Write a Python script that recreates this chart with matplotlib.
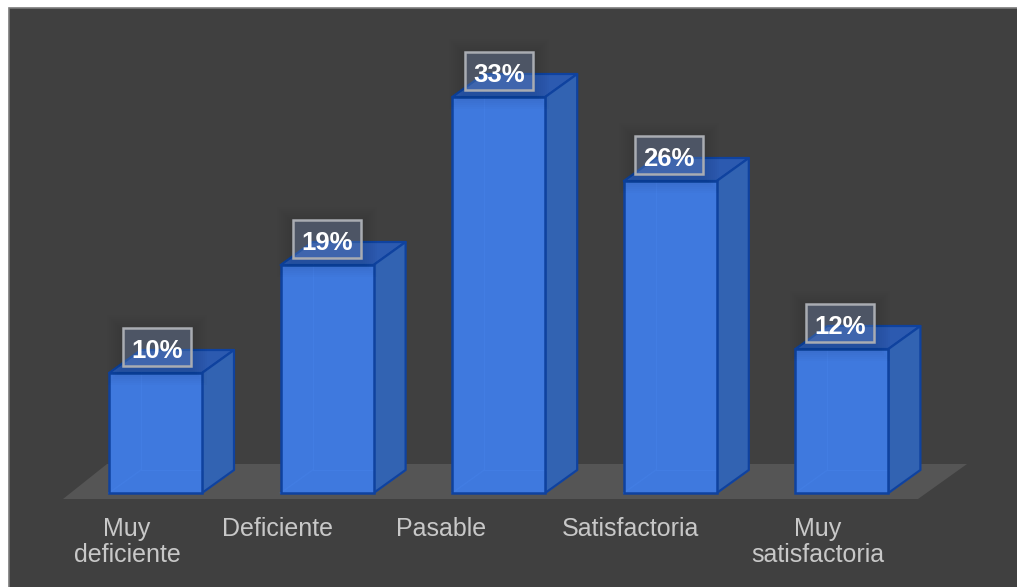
import numpy as np
import matplotlib
matplotlib.use("Agg")
import matplotlib.pyplot as plt
from matplotlib.patches import Polygon, Rectangle

categories = ["Muy\ndeficiente", "Deficiente", "Pasable", "Satisfactoria", "Muy\nsatisfactoria"]
values = [10, 19, 33, 26, 12]

plt.rcParams["font.family"] = ["Liberation Sans", "DejaVu Sans"]

# layout in pixels
W, H = 1017, 587
x0_px, step_px = 155.5, 171.6
base_px, unit_px = 493, 12.0
bar_w = 93 / step_px
dx = 32 / step_px
dy = 23 / unit_px
label_shift = [-28.5, -50, -58, -40, -24]
tag_shift = [1.5, 0, 0, -1, -2]

def px(x, y):
    return (x - x0_px) / step_px, (base_px - y) / unit_px

fig = plt.figure(figsize=(W / 100, H / 100), dpi=100, facecolor="white")
ax = fig.add_axes([0, 0, 1, 1])
ax.set_xlim(px(0, 0)[0], px(W, 0)[0])
ax.set_ylim(px(0, H)[1], px(0, 0)[1])
ax.axis("off")

# dark panel with a thin lighter border
ax.add_patch(Polygon([px(9, H + 5), px(9, 8), px(W + 5, 8), px(W + 5, H + 5)],
                     fc="#404040", ec="#7a7a7a", lw=1.2, zorder=1))

# floor
ax.add_patch(Polygon([px(63, 499), px(918, 499), px(967, 464), px(107, 464)],
                     fc="#555555", ec="none", zorder=2))

edge = "#0f429f"
inner = "#427de3"
for i, v in enumerate(values):
    l, r = i - bar_w / 2, i + bar_w / 2
    # inside faces show through the front
    ax.add_patch(Polygon([(l, 0), (r, 0), (r + dx, dy), (l + dx, dy)],
                         fc="#3e74d6", ec="#3a70d0", lw=1, zorder=3))
    # top and side
    ax.add_patch(Polygon([(l, v), (r, v), (r + dx, v + dy), (l + dx, v + dy)],
                         fc="#2c5ab0", ec=edge, lw=1.6, joinstyle="round", zorder=4))
    ax.add_patch(Polygon([(r, 0), (r + dx, dy), (r + dx, v + dy), (r, v)],
                         fc="#3263b2", ec=edge, lw=1.6, joinstyle="round", zorder=4))
    # front
    ax.add_patch(Rectangle((l, 0), bar_w, v, fc="#3f79de", ec="none", zorder=5))
    ax.plot([l + dx, l + dx], [dy, v], color=inner, lw=1, zorder=6)
    ax.plot([l + dx, r], [dy, dy], color=inner, lw=1, zorder=6)
    ax.plot([l, l + dx], [0, dy], color=inner, lw=1, zorder=6)
    ax.add_patch(Rectangle((l, 0), bar_w, v, fc="none", ec=edge, lw=1.8, zorder=7))

    # value tag with a soft shadow
    bw, bh = 68 / step_px, 38 / unit_px
    cx = i + tag_shift[i] / step_px
    cy = v + 26 / unit_px
    for g in range(8, 0, -1):
        gx, gy = g * 2 / step_px, g * 2 / unit_px
        ax.add_patch(Rectangle((cx - bw / 2 - gx, cy - bh / 2 - gy - 3 / unit_px),
                               bw + 2 * gx, bh + 2 * gy,
                               fc="black", ec="none", alpha=0.012, zorder=8))
    ax.add_patch(Rectangle((cx - bw / 2, cy - bh / 2), bw, bh, fc="#7f9bd0", ec="none",
                           alpha=0.3, zorder=9))
    ax.add_patch(Rectangle((cx - bw / 2, cy - bh / 2), bw, bh, fc="none", ec="#a9acb2",
                           lw=1.8, zorder=10))
    ax.text(cx, cy - 3.5 / unit_px, f"{v}%", color="white", fontsize=18.5, fontweight="bold",
            ha="center", va="center", zorder=11)

    # category label
    for j, line in enumerate(categories[i].split("\n")):
        ax.text(i + label_shift[i] / step_px, px(0, 529 + 26 * j)[1], line, color="#c8c8c8",
                fontsize=18, ha="center", va="center", zorder=11)

fig.savefig("out.png", dpi=100, facecolor="white")
